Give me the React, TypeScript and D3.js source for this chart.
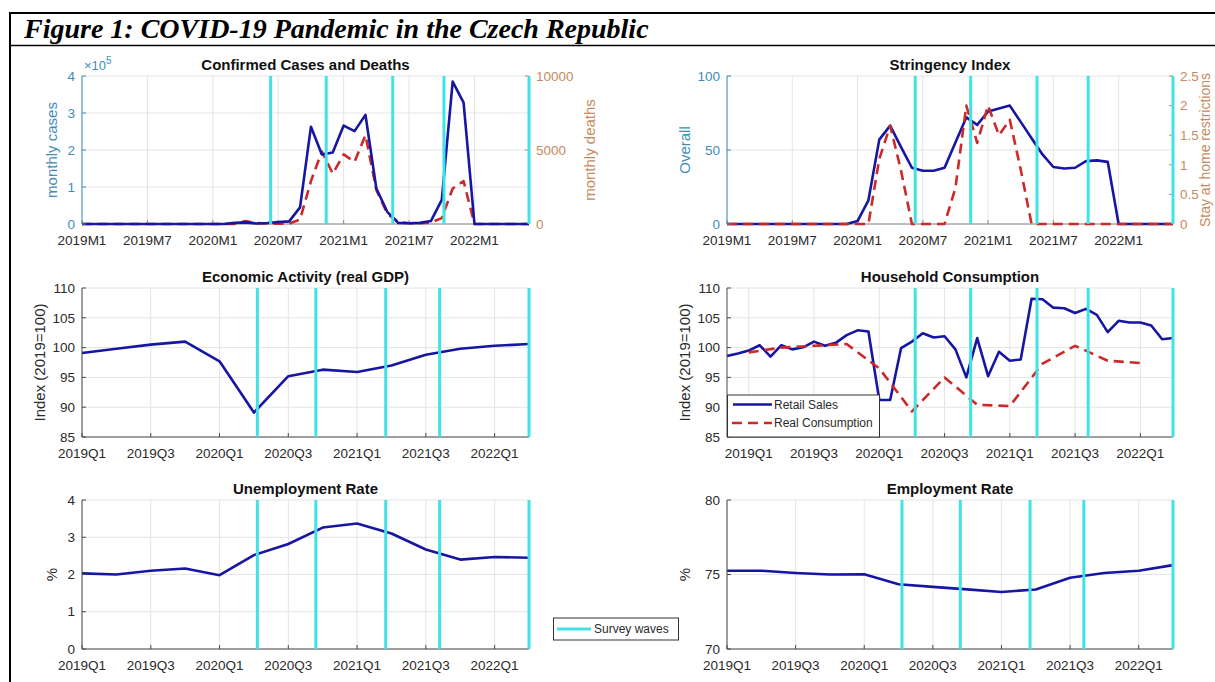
import React from "react";
import * as d3 from "d3";

// ---- data (monthly series run 2019M1 .. 2022M6, index 0..41) ----
const monthTickLabels = ["2019M1", "2019M7", "2020M1", "2020M7", "2021M1", "2021M7", "2022M1"];
const monthTickVals = [0, 6, 12, 18, 24, 30, 36];
const quarterTickLabels = ["2019Q1", "2019Q3", "2020Q1", "2020Q3", "2021Q1", "2021Q3", "2022Q1"];
const quarterTickVals = [0, 2, 4, 6, 8, 10, 12];
// household chart uses a monthly axis, quarter ticks sit on the quarter's last month
const quarterTickMonths = [2, 8, 14, 20, 26, 32, 38];

// confirmed cases, x 1e5
const cases = [
  0, 0, 0, 0, 0, 0, 0, 0, 0, 0, 0, 0, 0, 0,
  0.03, 0.045, 0.015, 0.025, 0.05, 0.07, 0.45, 2.63, 1.88, 1.93, 2.66, 2.51, 2.95,
  0.96, 0.33, 0.03, 0.02, 0.03, 0.08, 0.65, 3.85, 3.28, 0,
  0, 0, 0, 0, 0,
];
const deaths = [
  0, 0, 0, 0, 0, 0, 0, 0, 0, 0, 0, 0, 0, 0,
  10, 200, 60, 30, 20, 30, 300, 2900, 4900, 3400, 4700, 4200, 6000,
  2300, 700, 150, 50, 50, 100, 400, 2400, 2900, 0,
  0, 0, 0, 0, 0,
];
const stringency = [
  0, 0, 0, 0, 0, 0, 0, 0, 0, 0, 0, 0,
  2, 16, 57, 66.5, 52, 38, 36, 36, 38, 55, 72, 67, 76, 78, 80,
  69, 58, 47, 38.5, 37.5, 38, 42.5, 43, 42,
  0, 0, 0, 0, 0, 0,
];
const stayHome = [
  0, 0, 0, 0, 0, 0, 0, 0, 0, 0, 0, 0, 0, 0,
  1.1, 1.66, 0.9, 0, 0, 0, 0, 0.61, 2, 1.37, 2, 1.5, 1.76, 0.92,
  0, 0, 0, 0, 0, 0, 0, 0, 0, 0, 0, 0, 0, 0,
];
const retailSales = [
  98.6, 99.0, 99.5, 100.4, 98.5, 100.4, 99.7, 100.05, 101.0, 100.3, 100.8, 102.1,
  102.9, 102.7, 91.2, 91.2, 99.9, 101.0, 102.4, 101.7, 101.9, 99.7, 95.0, 101.6,
  95.2, 99.3, 97.8, 98.0, 108.2, 108.1, 106.7, 106.6, 105.8, 106.5, 105.5, 102.6,
  104.5, 104.2, 104.2, 103.7, 101.4, 101.6,
];
const consumptionMonths = [2, 5, 8, 11, 14, 17, 20, 23, 26, 29, 32, 35, 38];
const realConsumption = [99.2, 100.0, 100.3, 100.6, 96.5, 89.3, 95.0, 90.4, 90.2, 97.3, 100.3, 97.8, 97.4];

// quarterly, 2019Q1 .. 2022Q2
const gdp = [99.1, 99.8, 100.5, 101.0, 97.7, 89.1, 95.2, 96.3, 95.9, 97.0, 98.8, 99.8, 100.3, 100.6];
const unemployment = [2.03, 2.0, 2.1, 2.16, 1.98, 2.52, 2.82, 3.26, 3.37, 3.1, 2.67, 2.4, 2.47, 2.45];
const employment = [75.25, 75.25, 75.1, 75.0, 75.02, 74.35, 74.17, 74.0, 73.83, 73.99, 74.78, 75.1, 75.25, 75.63];

// survey waves, in months from 2019M1
const surveyWaves = [17.3, 22.4, 28.5, 33.2, 41];

const BLUE = "#1616a2";
const RED = "#cc2a2a";
const CYAN = "#40e2e8";
const LEFTC = "#3f8dbb";
const RIGHTC = "#c68a5e";
const GRID = "#e4e4e4";
const AXIS = "#4a4a4a";
const TXT = "#2a2a2a";
const FONT = "'Liberation Sans', Arial, sans-serif";

type Series = { xs: number[]; ys: number[]; color: string; dash?: string; right?: boolean };
type Box = { x0: number; x1: number; y0: number; y1: number };

type PanelProps = {
  box: Box;
  title: string;
  xDomain: [number, number];
  xTickVals: number[];
  xTickLabels: string[];
  yDomain: [number, number];
  yTicks: number[];
  yLabel: string;
  yLabelX: number;
  yColor?: string;
  bottomColor?: string;
  right?: { domain: [number, number]; ticks: number[]; label: string; labelX: number; labelSize?: number };
  series: Series[];
  waves: number[];
};

function Panel(p: PanelProps) {
  const { box } = p;
  const x = d3.scaleLinear().domain(p.xDomain).range([box.x0, box.x1]);
  const y = d3.scaleLinear().domain(p.yDomain).range([box.y1, box.y0]);
  const yR = p.right ? d3.scaleLinear().domain(p.right.domain).range([box.y1, box.y0]) : y;
  const lc = p.yColor || TXT;
  const mid = (box.y0 + box.y1) / 2;
  const path = (s: Series) =>
    d3
      .line<number>()
      .x((d, i) => x(s.xs[i]))
      .y((d) => (s.right ? yR : y)(d))(s.ys) || "";

  return (
    <g fontFamily={FONT}>
      {p.xTickVals.map((v) => (
        <line key={"gx" + v} x1={x(v)} x2={x(v)} y1={box.y0} y2={box.y1} stroke={GRID} />
      ))}
      {p.yTicks.map((v) => (
        <line key={"gy" + v} x1={box.x0} x2={box.x1} y1={y(v)} y2={y(v)} stroke={GRID} />
      ))}

      {/* right axis */}
      {p.right && (
        <g>
          <line x1={box.x1} x2={box.x1} y1={box.y0} y2={box.y1} stroke={RIGHTC} />
          {p.right.ticks.map((v) => (
            <g key={"rt" + v}>
              <line x1={box.x1 - 4} x2={box.x1} y1={yR(v)} y2={yR(v)} stroke={RIGHTC} />
              <text x={box.x1 + 7} y={yR(v)} dy="0.35em" fontSize={13.5} fill={RIGHTC}>
                {v}
              </text>
            </g>
          ))}
          <text
            transform={`translate(${p.right.labelX},${mid}) rotate(-90)`}
            textAnchor="middle"
            dy="0.35em"
            fontSize={p.right.labelSize || 15}
            fill={RIGHTC}
          >
            {p.right.label}
          </text>
        </g>
      )}

      {/* bottom axis */}
      <line x1={box.x0} x2={box.x1} y1={box.y1} y2={box.y1} stroke={p.bottomColor || AXIS} />
      {p.xTickVals.map((v, i) => (
        <g key={"xt" + v}>
          <line x1={x(v)} x2={x(v)} y1={box.y1} y2={box.y1 - 4} stroke={p.bottomColor || AXIS} />
          <text x={x(v)} y={box.y1 + 21} textAnchor="middle" fontSize={13.5} fill={TXT}>
            {p.xTickLabels[i]}
          </text>
        </g>
      ))}

      {p.series.map((s, i) => (
        <path
          key={"s" + i}
          d={path(s)}
          fill="none"
          stroke={s.color}
          strokeWidth={2.6}
          strokeDasharray={s.dash}
          strokeLinejoin="round"
        />
      ))}

      {p.waves
        .filter((w) => w >= p.xDomain[0] && w <= p.xDomain[1] + 1e-6)
        .map((w) => (
          <line key={"w" + w} x1={x(w)} x2={x(w)} y1={box.y0} y2={box.y1} stroke={CYAN} strokeWidth={3} />
        ))}

      {/* left axis */}
      <line x1={box.x0} x2={box.x0} y1={box.y0} y2={box.y1} stroke={p.yColor || AXIS} />
      {p.yTicks.map((v) => (
        <g key={"yt" + v}>
          <line x1={box.x0} x2={box.x0 + 4} y1={y(v)} y2={y(v)} stroke={p.yColor || AXIS} />
          <text x={box.x0 - 7} y={y(v)} dy="0.35em" textAnchor="end" fontSize={13.5} fill={lc}>
            {v}
          </text>
        </g>
      ))}
      <text
        transform={`translate(${p.yLabelX},${mid}) rotate(-90)`}
        textAnchor="middle"
        dy="0.35em"
        fontSize={15}
        fill={lc}
      >
        {p.yLabel}
      </text>

      <text x={(box.x0 + box.x1) / 2} y={box.y0 - 6} textAnchor="middle" fontSize={15} fontWeight="bold" fill="#111">
        {p.title}
      </text>
    </g>
  );
}

const L = { x0: 82, x1: 529 };
const R = { x0: 727, x1: 1173 };
const rows = [
  { y0: 76, y1: 224 },
  { y0: 288, y1: 437 },
  { y0: 500, y1: 649 },
];

export default function App() {
  const months = cases.map((_, i) => i);
  const quarters = gdp.map((_, i) => i);
  const qWaves = surveyWaves.map((m) => (m - 2) / 3);

  return (
    <div style={{ position: "absolute", left: 0, top: 0 }}>
      <svg width={1215} height={682} style={{ display: "block", background: "#fff" }}>
        {/* frame and figure heading */}
        <line x1={10} x2={1215} y1={13} y2={13} stroke="#000" strokeWidth={2} />
        <line x1={10} x2={10} y1={12} y2={682} stroke="#000" strokeWidth={2} />
        <line x1={10} x2={1215} y1={45.5} y2={45.5} stroke="#000" strokeWidth={1.5} />
        <text
          x={24}
          y={38}
          fontFamily="'Liberation Serif', 'Times New Roman', serif"
          fontWeight="bold"
          fontStyle="italic"
          fontSize={28}
          fill="#000"
        >
          Figure 1: COVID-19 Pandemic in the Czech Republic
        </text>

        <Panel
          box={{ ...L, ...rows[0] }}
          title="Confirmed Cases and Deaths"
          xDomain={[0, 41]}
          xTickVals={monthTickVals}
          xTickLabels={monthTickLabels}
          yDomain={[0, 4]}
          yTicks={[0, 1, 2, 3, 4]}
          yLabel="monthly cases"
          yLabelX={52}
          yColor={LEFTC}
          bottomColor="#8a8a8a"
          right={{ domain: [0, 10000], ticks: [0, 5000, 10000], label: "monthly deaths", labelX: 590 }}
          series={[
            { xs: months, ys: deaths, color: RED, dash: "10,6", right: true },
            { xs: months, ys: cases, color: BLUE },
          ]}
          waves={surveyWaves}
        />
        <text x={84} y={70} fontFamily={FONT} fontSize={13} fill={LEFTC}>
          ×10<tspan dy={-6} fontSize={10}>5</tspan>
        </text>

        <Panel
          box={{ ...R, ...rows[0] }}
          title="Stringency Index"
          xDomain={[0, 41]}
          xTickVals={monthTickVals}
          xTickLabels={monthTickLabels}
          yDomain={[0, 100]}
          yTicks={[0, 50, 100]}
          yLabel="Overall"
          yLabelX={685}
          yColor={LEFTC}
          bottomColor="#8a8a8a"
          right={{
            domain: [0, 2.5],
            ticks: [0, 0.5, 1, 1.5, 2, 2.5],
            label: "Stay at home restrictions",
            labelX: 1205,
            labelSize: 14,
          }}
          series={[
            { xs: months, ys: stringency, color: BLUE },
            { xs: months, ys: stayHome, color: RED, dash: "10,6", right: true },
          ]}
          waves={surveyWaves}
        />

        <Panel
          box={{ ...L, ...rows[1] }}
          title="Economic Activity (real GDP)"
          xDomain={[0, 13]}
          xTickVals={quarterTickVals}
          xTickLabels={quarterTickLabels}
          yDomain={[85, 110]}
          yTicks={[85, 90, 95, 100, 105, 110]}
          yLabel="Index (2019=100)"
          yLabelX={40}
          series={[{ xs: quarters, ys: gdp, color: BLUE }]}
          waves={qWaves}
        />

        <Panel
          box={{ ...R, ...rows[1] }}
          title="Household Consumption"
          xDomain={[0, 41]}
          xTickVals={quarterTickMonths}
          xTickLabels={quarterTickLabels}
          yDomain={[85, 110]}
          yTicks={[85, 90, 95, 100, 105, 110]}
          yLabel="Index (2019=100)"
          yLabelX={685}
          series={[
            { xs: months, ys: retailSales, color: BLUE },
            { xs: consumptionMonths, ys: realConsumption, color: RED, dash: "10,6" },
          ]}
          waves={surveyWaves}
        />
        {/* household legend */}
        <g fontFamily={FONT}>
          <rect x={727.5} y={395} width={152} height={42} fill="#fff" stroke="#333" strokeWidth={1} />
          <line x1={733} x2={772} y1={404.5} y2={404.5} stroke={BLUE} strokeWidth={2.6} />
          <text x={774} y={404.5} dy="0.35em" fontSize={12} fill={TXT}>
            Retail Sales
          </text>
          <line x1={732} x2={772} y1={423} y2={423} stroke={RED} strokeWidth={2.6} strokeDasharray="10,6" />
          <text x={774} y={423} dy="0.35em" fontSize={12} fill={TXT}>
            Real Consumption
          </text>
        </g>

        <Panel
          box={{ ...L, ...rows[2] }}
          title="Unemployment Rate"
          xDomain={[0, 13]}
          xTickVals={quarterTickVals}
          xTickLabels={quarterTickLabels}
          yDomain={[0, 4]}
          yTicks={[0, 1, 2, 3, 4]}
          yLabel="%"
          yLabelX={52}
          series={[{ xs: quarters, ys: unemployment, color: BLUE }]}
          waves={qWaves}
        />

        <Panel
          box={{ ...R, ...rows[2] }}
          title="Employment Rate"
          xDomain={[0, 13]}
          xTickVals={quarterTickVals}
          xTickLabels={quarterTickLabels}
          yDomain={[70, 80]}
          yTicks={[70, 75, 80]}
          yLabel="%"
          yLabelX={685}
          series={[{ xs: quarters, ys: employment, color: BLUE }]}
          waves={qWaves}
        />

        {/* survey waves legend */}
        <g fontFamily={FONT}>
          <rect x={553.5} y={618} width={125} height={22} fill="#fff" stroke="#333" strokeWidth={1} />
          <line x1={557} x2={591} y1={629} y2={629} stroke={CYAN} strokeWidth={3} />
          <text x={594} y={629} dy="0.35em" fontSize={12} fill={TXT}>
            Survey waves
          </text>
        </g>
      </svg>
    </div>
  );
}
